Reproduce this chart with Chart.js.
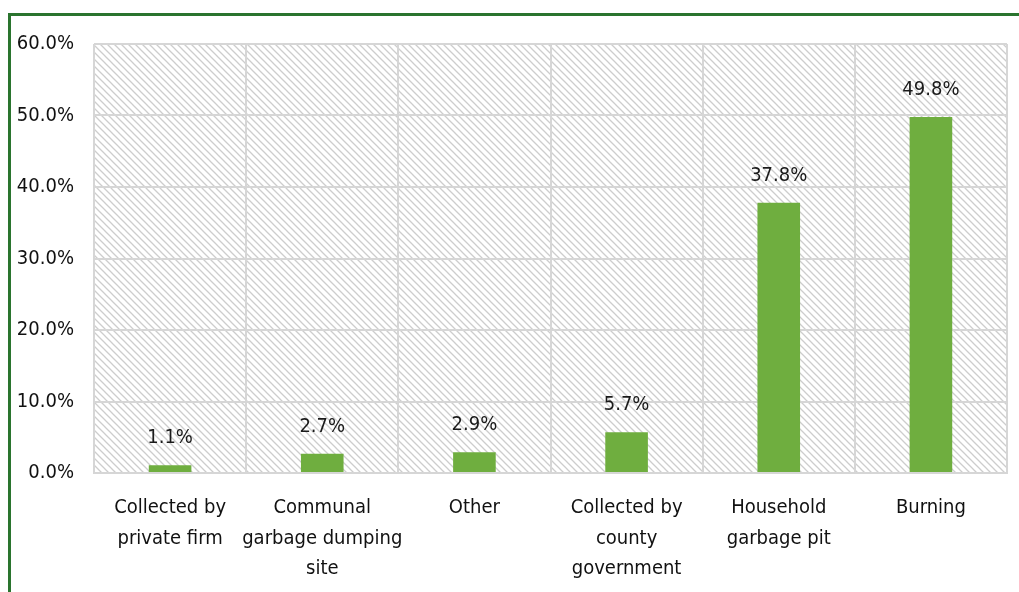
<!DOCTYPE html>
<html>
<head>
<meta charset="utf-8">
<script src="https://cdn.jsdelivr.net/npm/chart.js@4"></script>
<style>
  html, body { margin: 0; padding: 0; background: #fff; }
  #wrap { position: relative; width: 1019px; height: 592px; overflow: hidden; }
  #frame {
    position: absolute; left: 8px; top: 13px; width: 1020px; height: 600px;
    border-top: 3px solid #2a742e; border-left: 3px solid #2a742e;
  }
  #canvas1 { position: absolute; left: 0; top: 0; }
</style>
</head>
<body>
<div id="wrap">
  <div id="frame"></div>
  <canvas id="canvas1" width="1019" height="592"></canvas>
</div>
<script>
const categories = [
    ['Collected by', 'private firm'],
    ['Communal', 'garbage dumping', 'site'],
    ['Other'],
    ['Collected by', 'county', 'government'],
    ['Household', 'garbage pit'],
    ['Burning']
];
const shares = [1.1, 2.7, 2.9, 5.7, 37.8, 49.8];
const yTicks = [0, 10, 20, 30, 40, 50, 60];

const fontFamily = "'Liberation Sans Narrow', 'DejaVu Sans Condensed', 'Arial Narrow', sans-serif";

// light diagonal hatch behind the bars
function makeHatch() {
    const c = document.createElement('canvas');
    c.width = 7; c.height = 7;
    const g = c.getContext('2d');
    g.strokeStyle = '#cdcdcd';
    g.lineWidth = 1.3;
    g.beginPath();
    g.moveTo(-2, -2); g.lineTo(9, 9);
    g.moveTo(-2, 5); g.lineTo(2, 9);
    g.moveTo(5, -2); g.lineTo(9, 2);
    g.stroke();
    return g.createPattern(c, 'repeat');
}

const hatchBackground = {
    id: 'hatchBackground',
    beforeDraw(chart) {
        const { ctx, chartArea: a } = chart;
        ctx.save();
        ctx.fillStyle = makeHatch();
        ctx.fillRect(a.left, a.top, a.right - a.left, a.bottom - a.top);
        ctx.restore();
    }
};

// value labels above each bar
const valueLabels = {
    id: 'valueLabels',
    afterDatasetsDraw(chart) {
        const ctx = chart.ctx;
        const meta = chart.getDatasetMeta(0);
        ctx.save();
        ctx.font = '20px ' + fontFamily;
        ctx.fillStyle = '#1a1a1a';
        ctx.textAlign = 'center';
        ctx.textBaseline = 'bottom';
        meta.data.forEach((bar, i) => {
            ctx.fillText(shares[i].toFixed(1) + '%', bar.x, bar.y - 17);
        });
        ctx.restore();
    }
};

const ctx1 = document.getElementById('canvas1').getContext('2d');

const myChart1 = new Chart(ctx1, {
    type: 'bar',
    data: {
        labels: categories,
        datasets: [{
            data: shares,
            backgroundColor: '#6fae3f',
            barPercentage: 0.56,
            categoryPercentage: 0.5
        }]
    },
    options: {
        responsive: false,
        animation: false,
        layout: { padding: { top: 44, right: 12, left: 0, bottom: 0 } },
        plugins: {
            legend: { display: false },
            tooltip: { enabled: false }
        },
        scales: {
            x: {
                grid: { offset: true, color: '#d6d6d6', lineWidth: 2, drawTicks: false },
                border: { color: '#d6d6d6', width: 2 },
                ticks: {
                    color: '#111',
                    padding: 20,
                    autoSkip: false,
                    maxRotation: 0,
                    font: { family: fontFamily, size: 20, lineHeight: 1.52 }
                },
                afterFit(scale) { scale.height = 119; }
            },
            y: {
                min: 0,
                max: 60,
                afterBuildTicks(scale) { scale.ticks = yTicks.map(v => ({ value: v })); },
                grid: { color: '#d6d6d6', lineWidth: 2, drawTicks: false },
                border: { display: false },
                ticks: {
                    color: '#111',
                    padding: 20,
                    font: { family: fontFamily, size: 20 },
                    callback: v => v.toFixed(1) + '%'
                },
                afterFit(scale) { scale.width = 94; }
            }
        }
    },
    plugins: [hatchBackground, valueLabels]
});
</script>
</body>
</html>
